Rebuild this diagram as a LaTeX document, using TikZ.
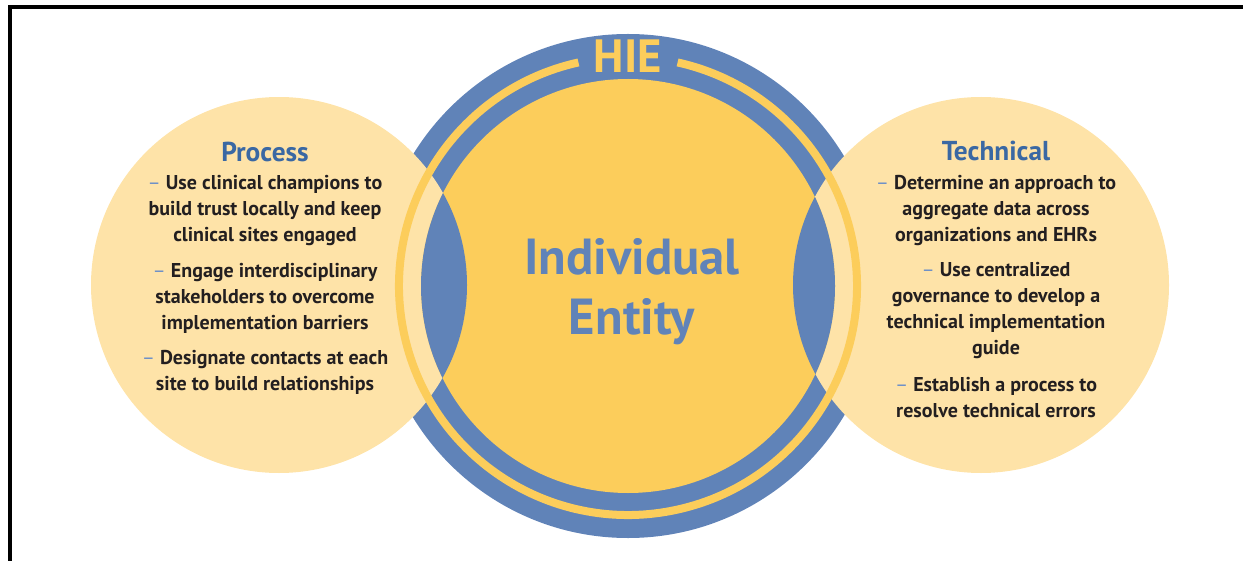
\documentclass[tikz,border=0pt]{standalone}
\usepackage{fontspec}
\setmainfont{PT Sans}
\usetikzlibrary{positioning,calc}

\definecolor{hieblue}{RGB}{96,131,184}
\definecolor{hieyellow}{RGB}{252,205,91}
\definecolor{palegold}{RGB}{254,227,168}
\definecolor{headblue}{RGB}{58,104,163}
\definecolor{dashblue}{RGB}{110,145,200}
\definecolor{bodyink}{RGB}{35,31,32}

\newcommand{\itm}{{\mdseries\textcolor{dashblue}{–}} }

\tikzset{
  heading/.style={font=\bfseries\fontsize{20.5}{24}\selectfont, text=headblue, inner sep=0pt},
  itemtext/.style={align=center, font=\bfseries\fontsize{15}{19.5}\selectfont, text=bodyink, inner sep=0pt},
  bigtext/.style={align=center, font=\bfseries\fontsize{38}{45}\selectfont, text=hieblue, inner sep=0pt}
}

\begin{document}
\begin{tikzpicture}[x=0.75pt,y=0.75pt]
\useasboundingbox (0,0) rectangle (1244,561);

% Frame
\draw[line width=3pt] (8,554) -- (1243,554);
\draw[line width=3pt] (10,554) -- (10,0);

% Circles
\coordinate (hub) at (628,275);
\coordinate (procc) at (279,276);
\coordinate (techc) at (981,276);

\fill[hieblue] (hub) circle (252);
\fill[palegold] (procc) circle (188);
\fill[palegold] (techc) circle (188);
\fill[hieyellow] (hub) circle (207);

% Lenses
\begin{scope}
  \clip (hub) circle (207);
  \fill[hieblue] (procc) circle (188);
  \fill[hieblue] (techc) circle (188);
\end{scope}

% Thin ring with a gap for the title
\draw[hieyellow, line width=6pt] ($(hub)+(102.5:229)$) arc (102.5:437.5:229);

% Labels
\node[font=\bfseries\fontsize{35}{40}\selectfont, text=hieyellow, inner sep=0pt] (hie) at (628,505) {HIE};
\node[bigtext] (entity) at (632,269) {Individual\\Entity};

\node[heading] (process) at (265,409) {Process};
\node[itemtext] (p1) at (265,350) {\itm Use clinical champions to\\build trust locally and keep\\clinical sites engaged};
\node[itemtext] (p2) at (265,263) {\itm Engage interdisciplinary\\stakeholders to overcome\\implementation barriers};
\node[itemtext] (p3) at (265,189) {\itm Designate contacts at each\\site to build relationships};

\node[heading] (technical) at (996,410) {Technical};
\node[itemtext] (t1) at (996,350) {\itm Determine an approach to\\aggregate data across\\organizations and EHRs};
\node[itemtext] (t2) at (996,250.5) {\itm Use centralized\\governance to develop a\\technical implementation\\guide};
\node[itemtext] (t3) at (996,163) {\itm Establish a process to\\resolve technical errors};
\end{tikzpicture}
\end{document}
